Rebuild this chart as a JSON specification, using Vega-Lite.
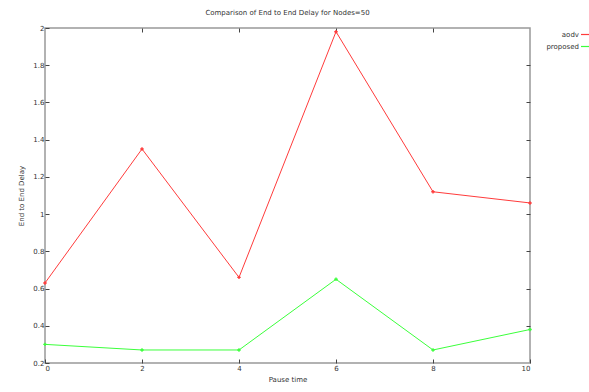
{
  "$schema": "https://vega.github.io/schema/vega-lite/v6.json",
  "autosize": "none",
  "width": 485,
  "height": 335,
  "padding": {"left": 45, "top": 28, "right": 59, "bottom": 29},
  "background": "white",
  "config": {
    "font": "DejaVu Sans",
    "view": {"stroke": "#999999", "strokeWidth": 1.5},
    "axis": {"grid": false, "domain": false, "tickColor": "#444444", "tickSize": -4, "labelFontSize": 7, "labelColor": "#333333", "titleFontSize": 7, "titleFontWeight": "normal", "titleColor": "#333333", "labelPadding": 5}
  },
  "title": {"text": "Comparison of End to End Delay for Nodes=50", "fontSize": 7, "fontWeight": "normal", "color": "#333333", "offset": 8},
  "data": {
    "values": [
      {"pause": 0, "delay": 0.63, "series": "aodv"},
      {"pause": 2, "delay": 1.35, "series": "aodv"},
      {"pause": 4, "delay": 0.66, "series": "aodv"},
      {"pause": 6, "delay": 1.98, "series": "aodv"},
      {"pause": 8, "delay": 1.12, "series": "aodv"},
      {"pause": 10, "delay": 1.06, "series": "aodv"},
      {"pause": 0, "delay": 0.30, "series": "proposed"},
      {"pause": 2, "delay": 0.27, "series": "proposed"},
      {"pause": 4, "delay": 0.27, "series": "proposed"},
      {"pause": 6, "delay": 0.65, "series": "proposed"},
      {"pause": 8, "delay": 0.27, "series": "proposed"},
      {"pause": 10, "delay": 0.38, "series": "proposed"}
    ]
  },
  "layer": [
    {
      "mark": {"type": "line", "strokeWidth": 1},
      "encoding": {
        "x": {"field": "pause", "type": "quantitative", "scale": {"domain": [0, 10], "nice": false}, "axis": {"values": [0, 2, 4, 6, 8, 10], "title": "Pause time", "titlePadding": 4, "format": "~f", "titleColor": "#333333", "labelColor": "#333333"}},
        "y": {"field": "delay", "type": "quantitative", "scale": {"domain": [0.2, 2], "nice": false, "zero": false}, "axis": {"values": [0.2, 0.4, 0.6, 0.8, 1, 1.2, 1.4, 1.6, 1.8, 2], "title": "End to End Delay", "titlePadding": 8, "format": "~f", "titleColor": "#333333", "labelColor": "#333333"}},
        "color": {"field": "series", "type": "nominal", "scale": {"domain": ["aodv", "proposed"], "range": ["#ff3b3b", "#3bff3b"]},
          "legend": {"orient": "none", "legendX": 535, "legendY": -2, "title": null, "symbolType": "stroke", "symbolStrokeWidth": 1.2, "symbolSize": 225, "labelFontSize": 7, "labelColor": "#333333", "rowPadding": 0, "labelAlign": "right", "labelOffset": -18}}
      }
    },
    {
      "mark": {"type": "point", "shape": "cross", "size": 12, "filled": true, "opacity": 1},
      "encoding": {
        "x": {"field": "pause", "type": "quantitative", "axis": null},
        "y": {"field": "delay", "type": "quantitative", "axis": null},
        "color": {"field": "series", "type": "nominal"}
      }
    },
    {
      "mark": {"type": "point", "opacity": 0},
      "encoding": {
        "x": {"field": "pause", "type": "quantitative", "axis": {"orient": "top", "values": [2, 4, 6, 8], "labels": false, "title": null}},
        "y": {"field": "delay", "type": "quantitative", "axis": {"orient": "right", "values": [0.4, 0.6, 0.8, 1, 1.2, 1.4, 1.6, 1.8], "labels": false, "title": null}}
      }
    }
  ],
  "resolve": {"axis": {"x": "independent", "y": "independent"}}
}
